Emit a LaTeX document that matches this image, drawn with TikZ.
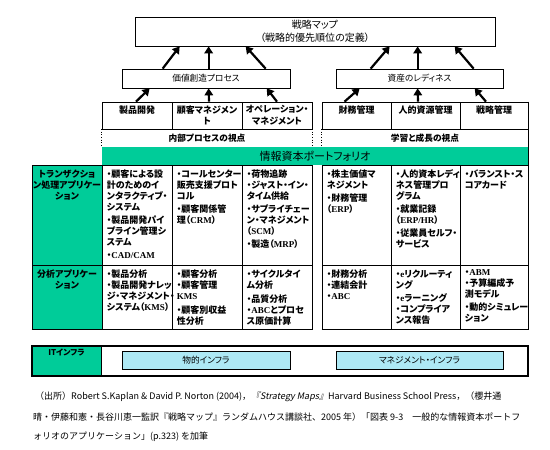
\documentclass[tikz,border=0pt]{standalone}
\usepackage{fontspec}
\setmainfont{Noto Sans CJK JP}[RawFeature=+palt]
\newfontfamily\jpfull{Noto Sans CJK JP}
\newfontfamily\latfont{Liberation Serif}
\newfontfamily\slfont{Noto Sans CJK JP}[FakeSlant=0.2]
\usetikzlibrary{arrows.meta,calc}
\definecolor{tgreen}{RGB}{0,204,153}
\definecolor{tblue}{RGB}{174,233,245}
\newcommand\latn[1]{{\latfont #1}}
\begin{document}
\begin{tikzpicture}[x=1pt,y=-1pt,
  cellbox/.style={draw, line width=0.7pt, inner sep=0pt},
  celltxt/.style={anchor=north west, inner sep=0pt, align=left, font=\fontsize{9}{11}\selectfont\bfseries},
  headtxt/.style={anchor=north, inner sep=0pt, align=center, font=\fontsize{9}{11.5}\selectfont\bfseries},
  labtxt/.style={anchor=north, inner sep=0pt, align=center, font=\fontsize{9}{11}\selectfont\bfseries},
  arr/.style={line width=2.2pt, -{Triangle[length=7pt,width=8.5pt]}},
  capt/.style={anchor=base west, inner sep=0pt, font=\jpfull\fontsize{9}{10}\selectfont}]
\useasboundingbox (0,0) rectangle (550,450);

% top boxes
\node[cellbox, minimum width=360pt, minimum height=29pt, align=center, font=\fontsize{10}{13.5}\selectfont] (map) at (315,31.5) {戦略マップ\\（戦略的優先順位の定義）};
\node[cellbox, minimum width=168pt, minimum height=19pt, font=\fontsize{8.7}{10}\selectfont] (vcp) at (206,78.5) {価値創造プロセス};
\node[cellbox, minimum width=167pt, minimum height=19pt, font=\fontsize{8.7}{10}\selectfont] (asset) at (419.5,78.5) {資産のレディネス};

% header cells
\node[cellbox, minimum width=70pt, minimum height=27pt] (h1) at (137,115.5) {};
\node[cellbox, minimum width=70pt, minimum height=27pt] (h2) at (207,115.5) {};
\node[cellbox, minimum width=70pt, minimum height=27pt] (h3) at (277,115.5) {};
\node[cellbox, minimum width=69pt, minimum height=27pt] (h4) at (356.5,115.5) {};
\node[cellbox, minimum width=69pt, minimum height=27pt] (h5) at (425.5,115.5) {};
\node[cellbox, minimum width=68pt, minimum height=27pt] (h6) at (494,115.5) {};
\node[headtxt] (h1t) at ($(h1.north)+(0,3.5)$) {製品開発};
\node[headtxt] (h2t) at ($(h2.north)+(0,3.5)$) {顧客マネジメン\\ト};
\node[headtxt] (h3t) at ($(h3.north)+(0,3.5)$) {オペレーション・\\マネジメント};
\node[headtxt] (h4t) at ($(h4.north)+(0,3.5)$) {財務管理};
\node[headtxt] (h5t) at ($(h5.north)+(0,3.5)$) {人的資源管理};
\node[headtxt] (h6t) at ($(h6.north)+(0,3.5)$) {戦略管理};

% perspective row
\node[inner sep=0pt, minimum width=210pt, minimum height=18pt, font=\fontsize{8.7}{10}\selectfont\bfseries] (v1) at (207,138) {内部プロセスの視点};
\node[inner sep=0pt, minimum width=206pt, minimum height=18pt, font=\fontsize{8.7}{10}\selectfont\bfseries] (v2) at (425,138) {学習と成長の視点};
\draw[dotted, line width=0.7pt] (v1.north west) -- (v1.south west);
\draw[dotted, line width=0.7pt] (v1.north east) -- (v1.south east);
\draw[dotted, line width=0.7pt] (v2.north west) -- (v2.south west);
\draw[dotted, line width=0.7pt] (v2.north east) -- (v2.south east);

% green bar
\node[fill=tgreen, inner sep=0pt, minimum width=426pt, minimum height=18pt, font=\fontsize{11}{12}\selectfont] (gbar) at (315,156) {情報資本ポートフォリオ};

% transaction row
\node[cellbox, fill=tgreen, minimum width=70pt, minimum height=100pt] (t0) at (67,215) {};
\node[cellbox, minimum width=70pt, minimum height=100pt] (t1) at (137,215) {};
\node[cellbox, minimum width=70pt, minimum height=100pt] (t2) at (207,215) {};
\node[cellbox, minimum width=70pt, minimum height=100pt] (t3) at (277,215) {};
\node[cellbox, minimum width=69pt, minimum height=100pt] (t4) at (356.5,215) {};
\node[cellbox, minimum width=69pt, minimum height=100pt] (t5) at (425.5,215) {};
\node[cellbox, minimum width=68pt, minimum height=100pt] (t6) at (494,215) {};

% analysis row
\node[cellbox, fill=tgreen, minimum width=70pt, minimum height=64pt] (a0) at (67,297) {};
\node[cellbox, minimum width=70pt, minimum height=64pt] (a1) at (137,297) {};
\node[cellbox, minimum width=70pt, minimum height=64pt] (a2) at (207,297) {};
\node[cellbox, minimum width=70pt, minimum height=64pt] (a3) at (277,297) {};
\node[cellbox, minimum width=69pt, minimum height=64pt] (a4) at (356.5,297) {};
\node[cellbox, minimum width=69pt, minimum height=64pt] (a5) at (425.5,297) {};
\node[cellbox, minimum width=68pt, minimum height=64pt] (a6) at (494,297) {};
\draw[line width=1.3pt] (a0.south west) -- (a3.south east);
\draw[line width=1.3pt] (a4.south west) -- (a6.south east);
\draw[line width=1.1pt] (h6.north east) -- (a6.south east);

% row labels
\node[labtxt] (t0t) at ($(t0.north)+(0,5)$) {トランザクショ\\ン処理アプリケー\\ション};
\node[labtxt] (a0t) at ($(a0.north)+(0,5)$) {分析アプリケー\\ション};

% transaction texts
\node[celltxt] (t1t) at ($(t1.north west)+(5,5)$) {・顧客による設\\計のためのイ\\ンタラクティブ・\\システム\\[2pt]・製品開発パイ\\プライン管理シ\\ステム\\[2pt]・\latn{CAD/CAM}};
\node[celltxt] (t2t) at ($(t2.north west)+(5,5)$) {・コールセンター\\販売支援プロト\\コル\\[2pt]・顧客関係管\\理（\latn{CRM}）};
\node[celltxt] (t3t) at ($(t3.north west)+(5,5)$) {・荷物追跡\\・ジャスト・イン・\\タイム供給\\[2pt]・サプライチェー\\ン・マネジメント\\（\latn{SCM}）\\[2pt]・製造（\latn{MRP}）};
\node[celltxt] (t4t) at ($(t4.north west)+(5,5)$) {・株主価値マ\\ネジメント\\[1.5pt]・財務管理\\（\latn{ERP}）};
\node[celltxt] (t5t) at ($(t5.north west)+(5,5)$) {・人的資本レディ\\ネス管理プロ\\グラム\\[2pt]・就業記録\\（\latn{ERP/HR}）\\[2pt]・従業員セルフ・\\サービス};
\node[celltxt] (t6t) at ($(t6.north west)+(5,5)$) {・バランスト・ス\\コアカード};

% analysis texts
\node[celltxt] (a1t) at ($(a1.north west)+(5,5)$) {・製品分析\\・製品開発ナレッ\\ジ・マネジメント・\\システム（\latn{KMS}）};
\node[celltxt] (a2t) at ($(a2.north west)+(5,5)$) {・顧客分析\\・顧客管理\\\latn{KMS}\\[2.5pt]・顧客別収益\\性分析};
\node[celltxt] (a3t) at ($(a3.north west)+(5,5)$) {・サイクルタイ\\ム分析\\[2.5pt]・品質分析\\・\latn{ABC}とプロセ\\ス原価計算};
\node[celltxt] (a4t) at ($(a4.north west)+(5,5)$) {・財務分析\\・連結会計\\・\latn{ABC}};
\node[celltxt] (a5t) at ($(a5.north west)+(5,5)$) {・\latn{e}リクルーティ\\ング\\[2pt]・\latn{e}ラーニング\\・コンプライア\\ンス報告};
\node[celltxt] (a6t) at ($(a6.north west)+(5,5)$) {・\latn{ABM}\\・予算編成予\\測モデル\\[2pt]・動的シミュレー\\ション};

% IT infrastructure row
\node[draw, fill=tgreen, line width=0.8pt, inner sep=0pt, minimum width=69pt, minimum height=30pt] (itl) at (66.5,361) {};
\node[draw, line width=1.4pt, inner sep=0pt, minimum width=496pt, minimum height=30pt] (it) at (280,361) {};
\node[labtxt, font=\fontsize{8}{10}\selectfont\bfseries] (itt) at ($(itl.north)+(0,3)$) {ITインフラ};
\node[draw, fill=tblue, line width=0.8pt, inner sep=0pt, minimum width=168pt, minimum height=18.5pt, font=\fontsize{8.7}{10}\selectfont] (pinfra) at (206,360.5) {物的インフラ};
\node[draw, fill=tblue, line width=0.8pt, inner sep=0pt, minimum width=167pt, minimum height=18.5pt, font=\fontsize{8.7}{10}\selectfont] (minfra) at (419.5,360.5) {マネジメント・インフラ};

% arrows upper
\draw[arr] ([xshift=41pt]vcp.north west) -- ([xshift=45pt]map.south west);
\draw[arr] ([xshift=87pt]vcp.north west) -- ([xshift=74pt]map.south west);
\draw[arr] ([xshift=144pt]vcp.north west) -- ([xshift=111pt]map.south west);
\draw[arr] ([xshift=35pt]asset.north west) -- ([xshift=255pt]map.south west);
\draw[arr] ([xshift=82pt]asset.north west) -- ([xshift=283pt]map.south west);
\draw[arr] ([xshift=138pt]asset.north west) -- ([xshift=320pt]map.south west);
% arrows lower
\draw[arr] ([xshift=-1pt]h1.north) -- ([xshift=28pt]vcp.south west);
\draw[arr] ([xshift=2pt]h2.north) -- ([xshift=87pt]vcp.south west);
\draw[arr] (h3.north) -- ([xshift=145pt]vcp.south west);
\draw[arr] ([xshift=-12pt]h4.north) -- ([xshift=24pt]asset.south west);
\draw[arr] ([xshift=-7.5pt]h5.north) -- ([xshift=82pt]asset.south west);
\draw[arr] ([xshift=-8pt]h6.north) -- ([xshift=139pt]asset.south west);

% caption
\node[capt] (c1) at (35,399.5) {（出所）Robert S.Kaplan \& David P. Norton (2004)，{\slfont 『Strategy Maps』}Harvard Business School Press，（櫻井通};
\node[capt] (c2) at (33,420.5) {晴・伊藤和憲・長谷川恵一監訳『戦略マップ』ランダムハウス講談社、2005 年）「図表 9-3　一般的な情報資本ポートフ};
\node[capt] (c3) at (33,439.5) {ォリオのアプリケーション」(p.323) を加筆};
\end{tikzpicture}
\end{document}
